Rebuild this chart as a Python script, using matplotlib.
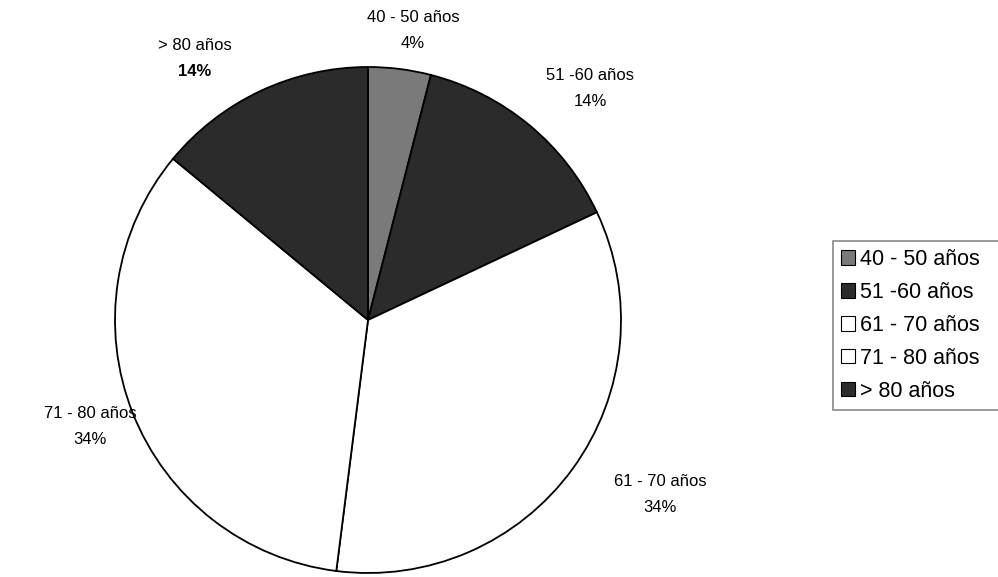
import matplotlib.pyplot as plt
from matplotlib.patches import Patch

plt.rcParams['font.family'] = ['Liberation Sans', 'DejaVu Sans']

# age groups and share of patients (%)
groups = ['40 - 50 años', '51 -60 años', '61 - 70 años', '71 - 80 años', '> 80 años']
shares = [4, 14, 34, 34, 14]
colors = ['#7a7a7a', '#2b2b2b', '#ffffff', '#ffffff', '#2b2b2b']

# where each slice label sits (pixels, y from top) and its percent weight
label_xy = [(413, 31), (590, 89), (660, 495), (90, 427), (195, 59)]
pct_weight = ['normal', 'normal', 'normal', 'normal', 'bold']

W, H = 998, 577
fig = plt.figure(figsize=(W / 100, H / 100), dpi=100)
ax = fig.add_axes([0, 0, 1, 1])

ax.pie(shares, colors=colors, startangle=90, counterclock=False,
       center=(368, H - 320), radius=253, frame=True,
       wedgeprops=dict(edgecolor='black', linewidth=1.3))
ax.set_xlim(0, W)
ax.set_ylim(0, H)
ax.axis('off')

for g, s, (x, y), fw in zip(groups, shares, label_xy, pct_weight):
    ax.text(x, H - y + 13, g, ha='center', va='center', fontsize=12)
    ax.text(x, H - y - 13, f'{s}%', ha='center', va='center', fontsize=12,
            fontweight=fw)

# legend box runs past the right edge of the figure
handles = [Patch(facecolor=c, edgecolor='black', linewidth=0.8) for c in colors]
leg = fig.legend(handles, groups, loc='upper left', mode='expand',
                 bbox_to_anchor=(833 / W, 1 - 241 / H, 200 / W, 0), fontsize=15.5,
                 handlelength=0.66, handleheight=0.66, handletextpad=0.2,
                 labelspacing=0.55, borderpad=0.38, borderaxespad=0,
                 fancybox=False, edgecolor='#888888', framealpha=1)
leg.get_frame().set_linewidth(1.2)

fig.savefig('out.png', dpi=100)
